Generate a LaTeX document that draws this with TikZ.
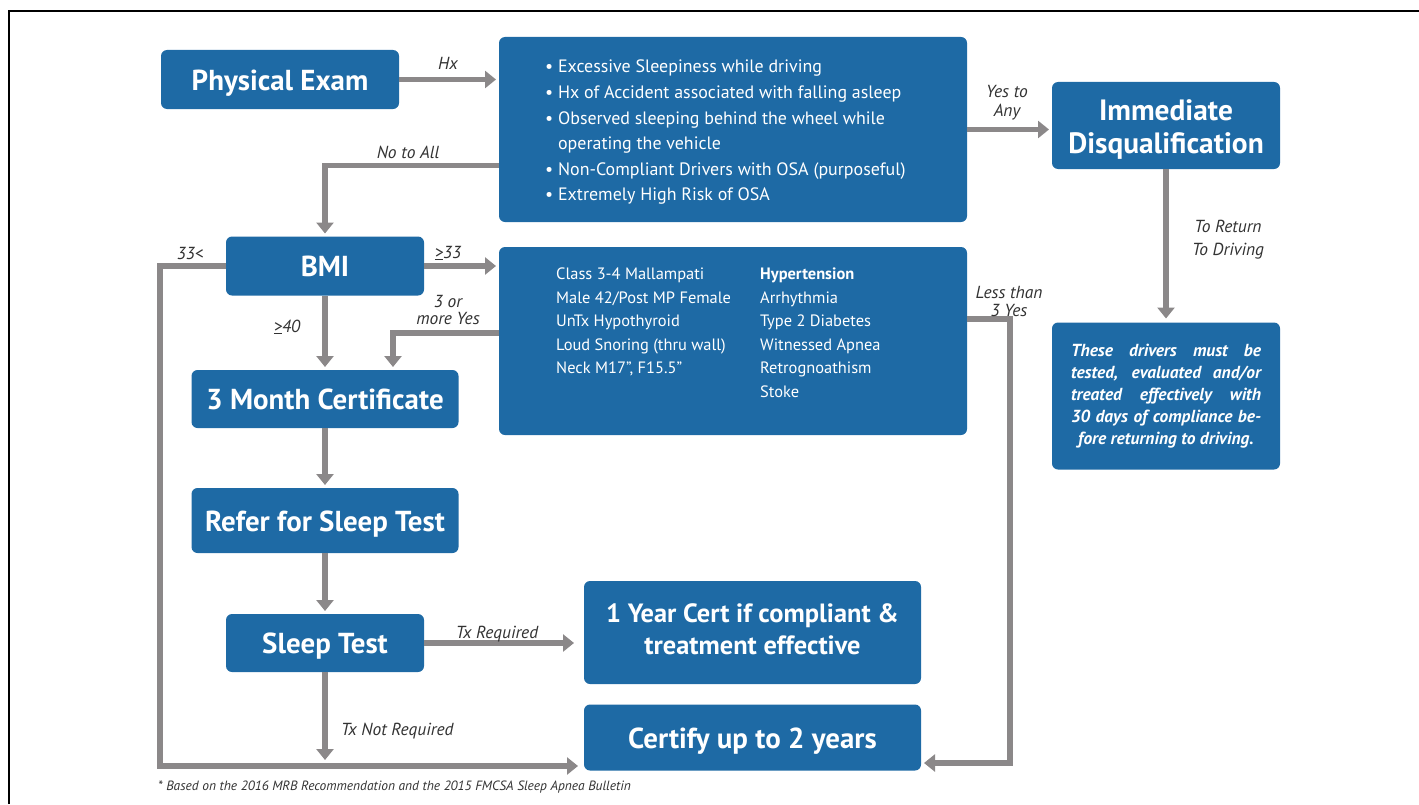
\documentclass[tikz,border=0pt]{standalone}
\usepackage{fontspec}
\setmainfont{PT Sans}
\usetikzlibrary{arrows.meta,positioning}
\definecolor{boxblue}{RGB}{30,106,165}
\definecolor{linkgray}{RGB}{139,136,137}
\definecolor{lblgray}{RGB}{50,50,50}
\begin{document}
\begin{tikzpicture}[
                            x=1bp, y=-1bp,
                            >={Triangle[length=11bp,width=17bp]},
                            box/.style={rectangle, rounded corners=6bp, fill=boxblue, text=white, inner sep=0pt, outer sep=0pt, align=center, font=\fontsize{29}{33}\selectfont\bfseries},
                            oneline/.style={box, text height=23bp, text depth=1.5bp},
                            link/.style={->, draw=linkgray, line width=5.5bp, shorten >=3bp},
                            lbl/.style={text=lblgray, align=center, inner sep=0pt, font=\fontsize{17.5}{19}\selectfont\itshape},
                            txt/.style={text=white, align=left, inner sep=0pt, anchor=north west, font=\fontsize{16.5}{23.6}\selectfont}
                        ]
                        \useasboundingbox (0,0) rectangle (1419,804);
                        % Frame
                        \draw [line width=2.5bp] (9,804) -- (9,11) -- (1419,11);

                        % Blocks
                        \node [oneline, minimum width=238bp, minimum height=59bp] (exam) at (280,79.5) {Physical Exam};
                        \node [box, minimum width=468bp, minimum height=185bp] (crit) at (733,129.5) {};
                        \node [txt, font=\fontsize{18}{25.7}\selectfont] (critText) at (545,60) {• Excessive Sleepiness while driving\\• Hx of Accident associated with falling asleep\\• Observed sleeping behind the wheel while\\\phantom{• }operating the vehicle\\• Non-Compliant Drivers with OSA (purposeful)\\• Extremely High Risk of OSA};
                        \node [box, minimum width=228bp, minimum height=87bp, font=\fontsize{29.5}{33}\selectfont\bfseries] (disq) at (1166,125.5) {\rule{0pt}{29bp}Immediate\\Disqualification};
                        \node [box, minimum width=228bp, minimum height=147bp, font=\fontsize{17.5}{22}\selectfont\bfseries\itshape] (note) at (1166,396) {\makebox[190bp][s]{These drivers must be}\\\makebox[190bp][s]{tested, evaluated and/or}\\\makebox[190bp][s]{treated effectively with}\\\makebox[190bp][s]{30 days of compliance be-}\\\makebox[190bp][c]{fore returning to driving.}};
                        \node [oneline, minimum width=198bp, minimum height=59bp] (bmi) at (325,266) {BMI};
                        \node [box, minimum width=468bp, minimum height=188bp] (risk) at (733,341) {};
                        \node [txt] (riskA) at (556,268) {Class 3-4 Mallampati\\Male 42/Post MP Female\\UnTx Hypothyroid\\Loud Snoring (thru wall)\\Neck M17”, F15.5”};
                        \node [txt] (riskB) at (760,268) {\textbf{Hypertension}\\Arrhythmia\\Type 2 Diabetes\\Witnessed Apnea\\Retrognoathism\\Stoke};
                        \node [oneline, minimum width=267bp, minimum height=58bp] (month) at (325,399) {3 Month Certificate};
                        \node [oneline, minimum width=267bp, minimum height=65bp] (refer) at (325,520.5) {Refer for Sleep Test};
                        \node [oneline, minimum width=198bp, minimum height=58bp] (sleep) at (325,643) {Sleep Test};
                        \node [box, minimum width=337bp, minimum height=103bp, font=\fontsize{26.5}{32}\selectfont\bfseries] (year) at (752.5,632.5) {1 Year Cert if compliant \&\\treatment effective\rule[-6bp]{0pt}{0pt}};
                        \node [oneline, minimum width=337bp, minimum height=66bp] (certify) at (752.5,737.5) {Certify up to 2 years};
                        \coordinate (loopL) at (160,766);
                        \coordinate (loopR) at (1010,763);

                        % Connections
                        \draw [link] (exam.east) -- (exam.east -| crit.west);
                        \draw [link] ([yshift=-36bp]crit.west) -| (bmi.north);
                        \draw [link] (crit.east) -- (crit.east -| disq.west);
                        \draw [link, shorten >=4bp] (disq.south) -- (note.north);
                        \draw [link] (bmi.east) -- (bmi.east -| risk.west);
                        \draw [link, shorten >=6bp] (bmi.west) -| (loopL) -- (loopL -| certify.west);
                        \draw [link] (bmi.south) -- (month.north);
                        \draw [link] ([yshift=8bp]risk.west) -| ([xshift=68bp]month.north);
                        \draw [link] ([yshift=22bp]risk.east) -| (loopR) -- (loopR -| certify.east);
                        \draw [link] (month.south) -- (refer.north);
                        \draw [link] (refer.south) -- (sleep.north);
                        \draw [link, shorten >=10bp] (sleep.east) -- (sleep.east -| year.west);
                        \draw [link, shorten >=6bp] (sleep.south) -- (sleep.south |- loopL);

                        % Labels
                        \node [lbl] (hxLbl) at (448,63) {Hx};
                        \node [lbl] (noLbl) at (408,152) {No to All};
                        \node [lbl] (yesLbl) at (1007,102.5) {Yes to\\Any};
                        \node [lbl, font=\fontsize{17.5}{23}\selectfont\itshape] (backLbl) at (1228,240) {To Return\\To Driving};
                        \node [lbl] (lowLbl) at (190,253) {33<};
                        \node [lbl] (highLbl) at (448,253) {\underline{>}33};
                        \node [lbl] (maxLbl) at (287,327) {\underline{>}40};
                        \node [lbl, font=\fontsize{17.5}{18}\selectfont\itshape] (moreLbl) at (448,310) {3 or\\more Yes};
                        \node [lbl] (lessLbl) at (1009,301.5) {Less than\\3 Yes};
                        \node [lbl] (txLbl) at (497,634) {Tx Required};
                        \node [lbl, anchor=west] (notxLbl) at (341,731) {Tx Not Required};
                        \node [lbl, anchor=west, font=\fontsize{13.5}{15}\selectfont\itshape] (footLbl) at (158,787) {* Based on the 2016 MRB Recommendation and the 2015 FMCSA Sleep Apnea Bulletin};
                    \end{tikzpicture}
\end{document}
